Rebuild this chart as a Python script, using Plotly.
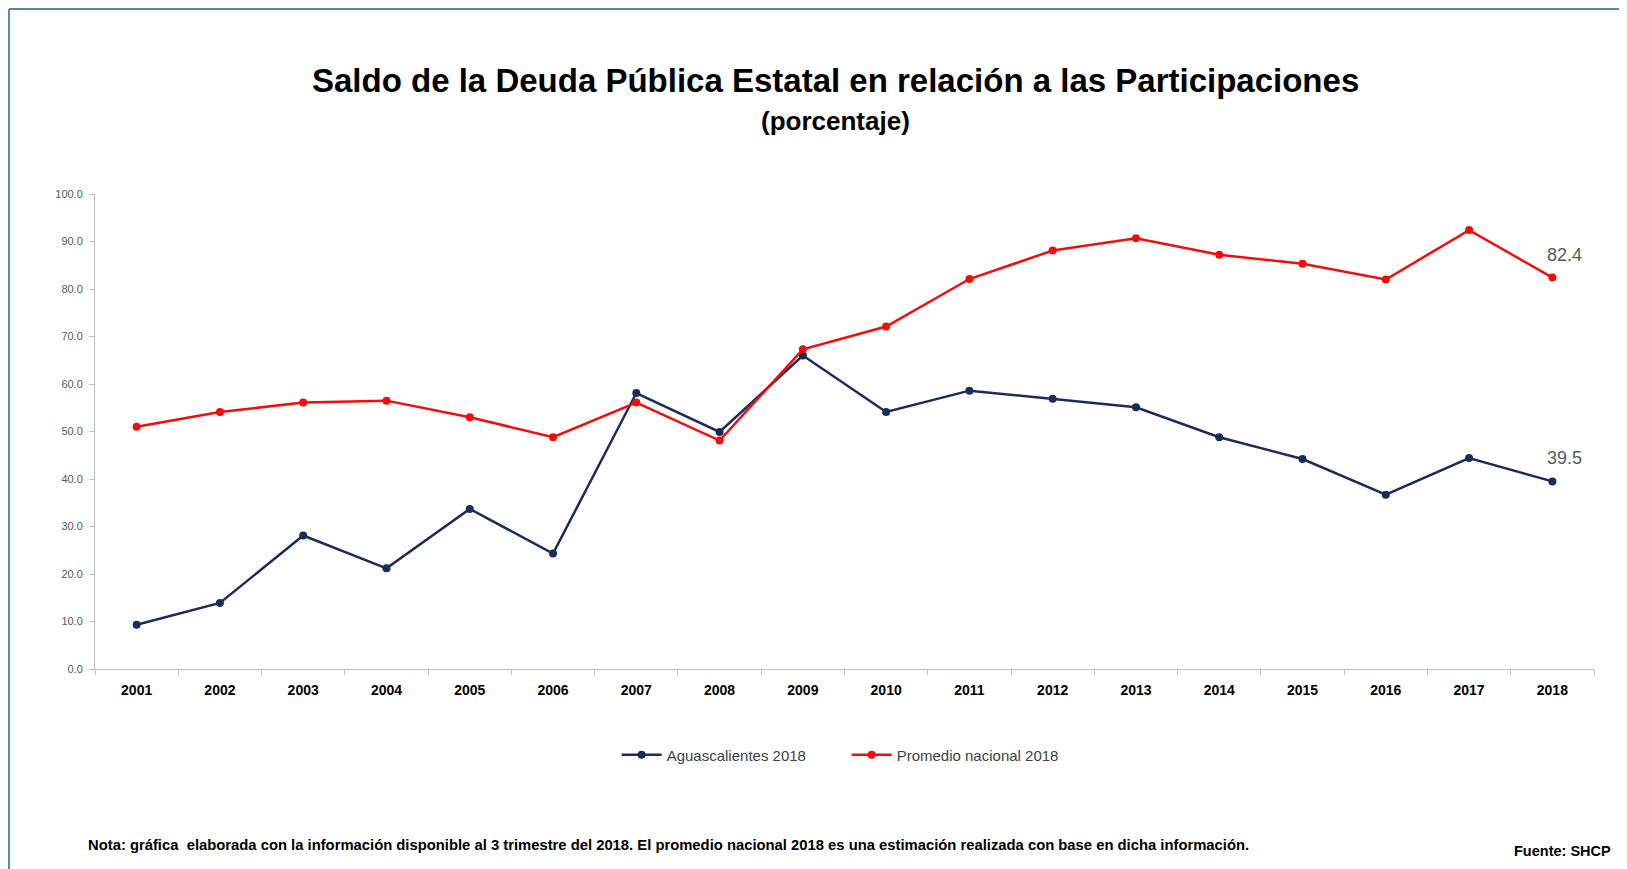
import plotly.graph_objects as go

years = [str(y) for y in range(2001, 2019)]
aguascalientes = [9.3, 13.9, 28.1, 21.2, 33.7, 24.3, 58.1, 49.9, 66.0, 54.1,
                  58.6, 56.9, 55.1, 48.8, 44.2, 36.7, 44.4, 39.5]
promedio = [51.0, 54.1, 56.1, 56.5, 53.0, 48.8, 56.1, 48.1, 67.3, 72.1,
            82.1, 88.1, 90.7, 87.2, 85.3, 82.0, 92.4, 82.4]

NAVY = '#1c2b5a'
RED = '#f20d0d'
FONT = 'Liberation Sans, Arial, sans-serif'

fig = go.Figure()

fig.add_trace(go.Scatter(x=years, y=aguascalientes, mode='lines+markers',
                         name='Aguascalientes 2018',
                         line=dict(color=NAVY, width=2.5),
                         marker=dict(color=NAVY, size=8)))
fig.add_trace(go.Scatter(x=years, y=promedio, mode='lines+markers',
                         name='Promedio nacional 2018',
                         line=dict(color=RED, width=2.5),
                         marker=dict(color=RED, size=8)))

# value labels on the last point of each series (category index of the last year)
last = len(years) - 1
for serie in (aguascalientes, promedio):
   fig.add_annotation(x=last, y=serie[-1], text=f'{serie[-1]:.1f}',
                      showarrow=False, xshift=12, yshift=23,
                      font=dict(family=FONT, size=18, color='#595959'))

# titles and notes (paper coords: plot area spans x 87-1586 px, y 186-661 px of the figure)
fig.add_annotation(x=0.4943, y=1.24, xref='paper', yref='paper', showarrow=False,
                   yanchor='middle',
                   text='<b>Saldo de la Deuda Pública Estatal en relación a las Participaciones</b>',
                   font=dict(family=FONT, size=33, color='#000000'))
fig.add_annotation(x=0.4943, y=1.1537, xref='paper', yref='paper', showarrow=False,
                   yanchor='middle', text='<b>(porcentaje)</b>',
                   font=dict(family=FONT, size=26, color='#000000'))
fig.add_annotation(x=-0.006, y=-0.3705, xref='paper', yref='paper', showarrow=False,
                   xanchor='left', yanchor='middle',
                   text='<b>Nota: gráfica  elaborada con la información disponible al 3 trimestre del 2018. '
                        'El promedio nacional 2018 es una estimación realizada con base en dicha información.</b>',
                   font=dict(family=FONT, size=14.8, color='#000000'))
fig.add_annotation(x=1.0127, y=-0.383, xref='paper', yref='paper', showarrow=False,
                   xanchor='right', yanchor='middle', text='<b>Fuente: SHCP</b>',
                   font=dict(family=FONT, size=14.5, color='#000000'))

# chart frame (top and left edges visible)
fig.add_shape(type='line', xref='paper', yref='paper', x0=-0.0574, x1=1.05,
              y0=1.3895, y1=1.3895, line=dict(color='#5f84b0', width=2))
fig.add_shape(type='line', xref='paper', yref='paper', x0=-0.0574, x1=-0.0574,
              y0=1.3895, y1=-0.45, line=dict(color='#5f84b0', width=2))

fig.update_layout(
   width=1619,
   height=861,
   autosize=False,
   margin=dict(l=87, r=33, t=186, b=200, autoexpand=False),
   plot_bgcolor='white',
   paper_bgcolor='white',
   font=dict(family=FONT, color='#404040'),
   showlegend=True,
   legend=dict(orientation='h', x=0.348, xanchor='left', y=-0.181, yanchor='middle',
               font=dict(family=FONT, size=15, color='#404040'),
               itemwidth=40, entrywidth=175, entrywidthmode='pixels'),
   xaxis=dict(type='category', range=[-0.5, last + 0.5], showgrid=False, zeroline=False,
              showline=True, linecolor='#bfbfbf', linewidth=1, tickangle=0,
              ticks='outside', tickson='boundaries', ticklen=5, tickcolor='#bfbfbf',
              tickfont=dict(family=FONT, size=14, color='#000000', weight='bold'),
              ticklabelstandoff=8),
   yaxis=dict(range=[0, 100], dtick=10, tickformat='.1f', showgrid=False, zeroline=False,
              showline=True, linecolor='#bfbfbf', linewidth=1,
              ticks='outside', ticklen=5, tickcolor='#bfbfbf',
              tickfont=dict(family=FONT, size=11, color='#595959'),
              ticklabelstandoff=4),
)

fig.write_html("out.html")
